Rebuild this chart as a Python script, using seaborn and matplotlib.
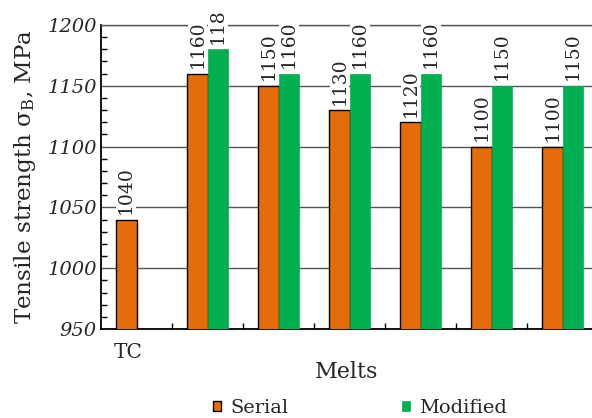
import matplotlib
matplotlib.use("Agg")
import matplotlib.pyplot as plt
import seaborn as sns
import pandas as pd
import numpy as np
from matplotlib.ticker import MultipleLocator
from matplotlib.transforms import Bbox, ScaledTranslation
from matplotlib.patches import Patch

melts = ["TC", "M1", "M2", "M3", "M4", "M5", "M6"]
tick_labels = ["TC", "", "", "", "", "", ""]
serial = [1040, 1160, 1150, 1130, 1120, 1100, 1100]
modified = [np.nan, 1180, 1160, 1160, 1160, 1150, 1150]
series = ["Serial", "Modified"]

sns.set_theme(style="white")
plt.rcParams['font.family'] = ['DejaVu Serif']
plt.rcParams['mathtext.fontset'] = 'dejavuserif'

rows = []
for m, s, md in zip(melts, serial, modified):
    rows.append({"melt": m, "series": "Serial", "value": s})
    rows.append({"melt": m, "series": "Modified", "value": md})
df = pd.DataFrame(rows)

orange = "#E46C0A"
green = "#00B050"

W, H = 592, 418
fig = plt.figure(figsize=(W/100, H/100), dpi=100)
ax = fig.add_axes([101/W, 1-329/H, 1-101/W, (329-25)/H])

sns.barplot(data=df, x="melt", y="value", hue="series", order=melts,
            hue_order=series, palette=[orange, green], width=0.58,
            ax=ax, legend=False, saturation=1, zorder=3)

clip = Bbox.from_extents(0, 0, W, H - 11)
for c, name in zip(ax.containers, series):
    for p in c.patches:
        if name == "Serial":
            p.set_edgecolor("black")
            p.set_linewidth(1.0)
        else:
            p.set_edgecolor(green)
            p.set_linewidth(0.5)
    texts = ax.bar_label(c, fmt="%d", rotation=90, padding=4, fontsize=13.5,
                         bbox=dict(facecolor="white", edgecolor="none", pad=0.5),
                         zorder=4)
    for t in texts:
        t.set_clip_box(clip)
        t.set_clip_on(True)

ax.set_ylim(950, 1200)
ax.set_xlim(-0.5, 6.41)
ax.yaxis.set_major_locator(MultipleLocator(50))
ax.yaxis.set_minor_locator(MultipleLocator(10))
ax.set_xticks(range(len(melts)))
ax.set_xticklabels(tick_labels, fontsize=14.5)
ax.set_xticks(np.arange(0.5, 6, 1.0), minor=True)
ax.tick_params(axis="x", which="major", length=0, pad=10)
ax.tick_params(axis="x", which="minor", direction="in", length=4, width=1, color="black", bottom=True)
ax.tick_params(axis="y", which="both", direction="in", length=4, width=1, color="black", left=True)
ax.tick_params(axis="y", which="major", length=0, pad=3)
shift = ScaledTranslation(-8/100, 0, fig.dpi_scale_trans)
for lbl in ax.get_xticklabels():
    lbl.set_transform(lbl.get_transform() + shift)
for lbl in ax.get_yticklabels():
    lbl.set_fontstyle("italic")
    lbl.set_fontsize(14)

ax.grid(axis="y", color="#555555", linewidth=1.0, zorder=0)
ax.set_axisbelow(True)
ax.spines["left"].set_color("black")
ax.spines["left"].set_linewidth(1.3)
ax.spines["bottom"].set_color("black")
ax.spines["bottom"].set_linewidth(1.3)
ax.spines["top"].set_color("#555555")
ax.spines["top"].set_linewidth(1.0)
ax.spines["right"].set_visible(False)

ax.set_xlabel("Melts", fontsize=16, labelpad=-1)
ax.set_ylabel(r"Tensile strength σ$_\mathrm{B}$, MPa", fontsize=16.6, labelpad=7)

handles = [Patch(facecolor=orange, edgecolor="black", linewidth=1.0),
           Patch(facecolor=green, edgecolor=green, linewidth=0.5)]
fig.legend(handles, series, loc="center", bbox_to_anchor=(360/W, 1-408/H),
           ncol=2, frameon=False, fontsize=14, handlelength=0.42, handleheight=0.42,
           handletextpad=0.5, columnspacing=5.8, borderpad=0.1)

fig.savefig("out.png", dpi=100)
